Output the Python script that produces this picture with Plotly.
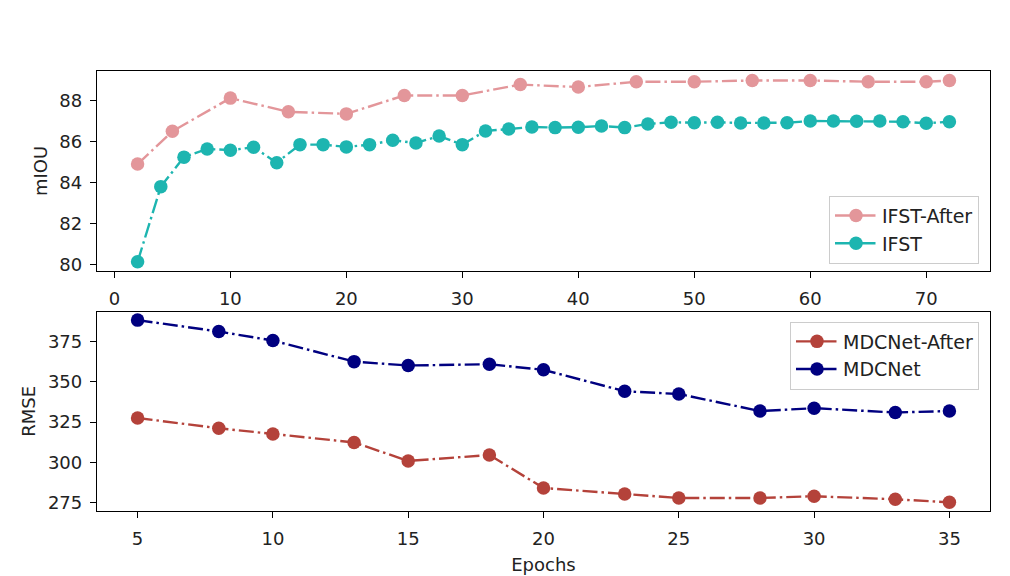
import plotly.graph_objects as go

# ---- top panel data (mIOU) ----
ifst_after_x = [2, 5, 10, 15, 20, 25, 30, 35, 40, 45, 50, 55, 60, 65, 70, 72]
ifst_after_y = [84.9, 86.5, 88.12, 87.45, 87.35, 88.25, 88.25, 88.78, 88.66,
                88.92, 88.92, 88.98, 88.98, 88.92, 88.92, 88.98]

ifst_x = [2, 4, 6, 8, 10, 12, 14, 16, 18, 20, 22, 24, 26, 28, 30, 32, 34, 36,
          38, 40, 42, 44, 46, 48, 50, 52, 54, 56, 58, 60, 62, 64, 66, 68, 70, 72]
ifst_y = [80.13, 83.8, 85.24, 85.64, 85.58, 85.72, 84.97, 85.85, 85.85, 85.74,
          85.85, 86.06, 85.93, 86.27, 85.85, 86.52, 86.61, 86.71, 86.68, 86.70,
          86.76, 86.68, 86.86, 86.94, 86.92, 86.94, 86.91, 86.91, 86.92, 87.0,
          87.0, 86.99, 87.0, 86.97, 86.89, 86.97]

# ---- bottom panel data (RMSE) ----
mdc_x = [5, 8, 10, 13, 15, 18, 20, 23, 25, 28, 30, 33, 35]
mdc_after_y = [327.5, 321.1, 317.6, 312.3, 300.8, 304.5, 284.0, 280.3, 277.8,
               277.8, 278.9, 277.0, 275.1]
mdc_y = [388.3, 381.2, 375.6, 362.5, 360.1, 360.9, 357.4, 344.1, 342.4,
         331.8, 333.6, 330.9, 331.8]

top_xticks = [0, 10, 20, 30, 40, 50, 60, 70]
top_yticks = [80, 82, 84, 86, 88]
bot_xticks = [5, 10, 15, 20, 25, 30, 35]
bot_yticks = [275, 300, 325, 350, 375]

C_PINK = "#e3969a"
C_TEAL = "#1db5b0"
C_RED = "#b4423a"
C_NAVY = "#000080"

FONT = "DejaVu Sans"
FS = 18
LFS = 19
DASH = "15px,4px,2.5px,4px"
LW = 2.4
MS = 13.5

fig = go.Figure()


def add(x, y, name, color, xa, ya, legend):
    fig.add_trace(go.Scatter(
        x=x, y=y, name=name, mode="lines+markers",
        line=dict(color=color, width=LW, dash=DASH),
        marker=dict(color=color, size=MS, symbol="circle"),
        xaxis=xa, yaxis=ya, legend=legend,
    ))


add(ifst_after_x, ifst_after_y, "IFST-After", C_PINK, "x", "y", "legend")
add(ifst_x, ifst_y, "IFST", C_TEAL, "x", "y", "legend")
add(mdc_x, mdc_after_y, "MDCNet-After", C_RED, "x2", "y2", "legend2")
add(mdc_x, mdc_y, "MDCNet", C_NAVY, "x2", "y2", "legend2")

W, H = 1010, 576
OFFX = 8   # page body margin
OFFY = 6
L, R = 97 - OFFX, 990 - OFFX
T1, B1 = 69.5 - OFFY, 270.7 - OFFY
T2, B2 = 311.7 - OFFY, 512.7 - OFFY

axis_common = dict(
    showline=True, linecolor="black", linewidth=1.3, mirror=True,
    ticks="outside", ticklen=6, tickwidth=1.2, tickcolor="black",
    showgrid=False, zeroline=False,
    tickfont=dict(family=FONT, size=FS, color="#222"),
)

fig.update_layout(
    width=W, height=H,
    margin=dict(l=0, r=0, t=0, b=0),
    paper_bgcolor="white", plot_bgcolor="white",
    font=dict(family=FONT, size=FS, color="#222"),
    xaxis=dict(domain=[L / W, R / W], range=[-1.5, 75.5], anchor="y",
               tickvals=top_xticks, ticklabelstandoff=5, **axis_common),
    yaxis=dict(domain=[1 - B1 / H, 1 - T1 / H], range=[79.69, 89.44], anchor="x",
               tickvals=top_yticks, ticklabelstandoff=4,
               title=dict(text="mIOU", font=dict(family=FONT, size=FS), standoff=7),
               **axis_common),
    xaxis2=dict(domain=[L / W, R / W], range=[3.5, 36.5], anchor="y2",
                tickvals=bot_xticks, ticklabelstandoff=5,
                title=dict(text="Epochs", font=dict(family=FONT, size=FS), standoff=10),
                **axis_common),
    yaxis2=dict(domain=[1 - B2 / H, 1 - T2 / H], range=[269.6, 393.6], anchor="x2",
                tickvals=bot_yticks, ticklabelstandoff=4,
                title=dict(text="RMSE", font=dict(family=FONT, size=FS), standoff=7),
                **axis_common),
    legend=dict(x=(979 - OFFX) / W, y=1 - (195 - OFFY) / H, xanchor="right", yanchor="top",
                bgcolor="rgba(255,255,255,0.8)", bordercolor="#cccccc", borderwidth=1,
                font=dict(family=FONT, size=LFS), itemwidth=42, tracegroupgap=0),
    legend2=dict(x=(979 - OFFX) / W, y=1 - (321.7 - OFFY) / H, xanchor="right", yanchor="top",
                 bgcolor="rgba(255,255,255,0.8)", bordercolor="#cccccc", borderwidth=1,
                 font=dict(family=FONT, size=LFS), itemwidth=42, tracegroupgap=0),
    showlegend=True,
)

fig.write_html("out.html")
